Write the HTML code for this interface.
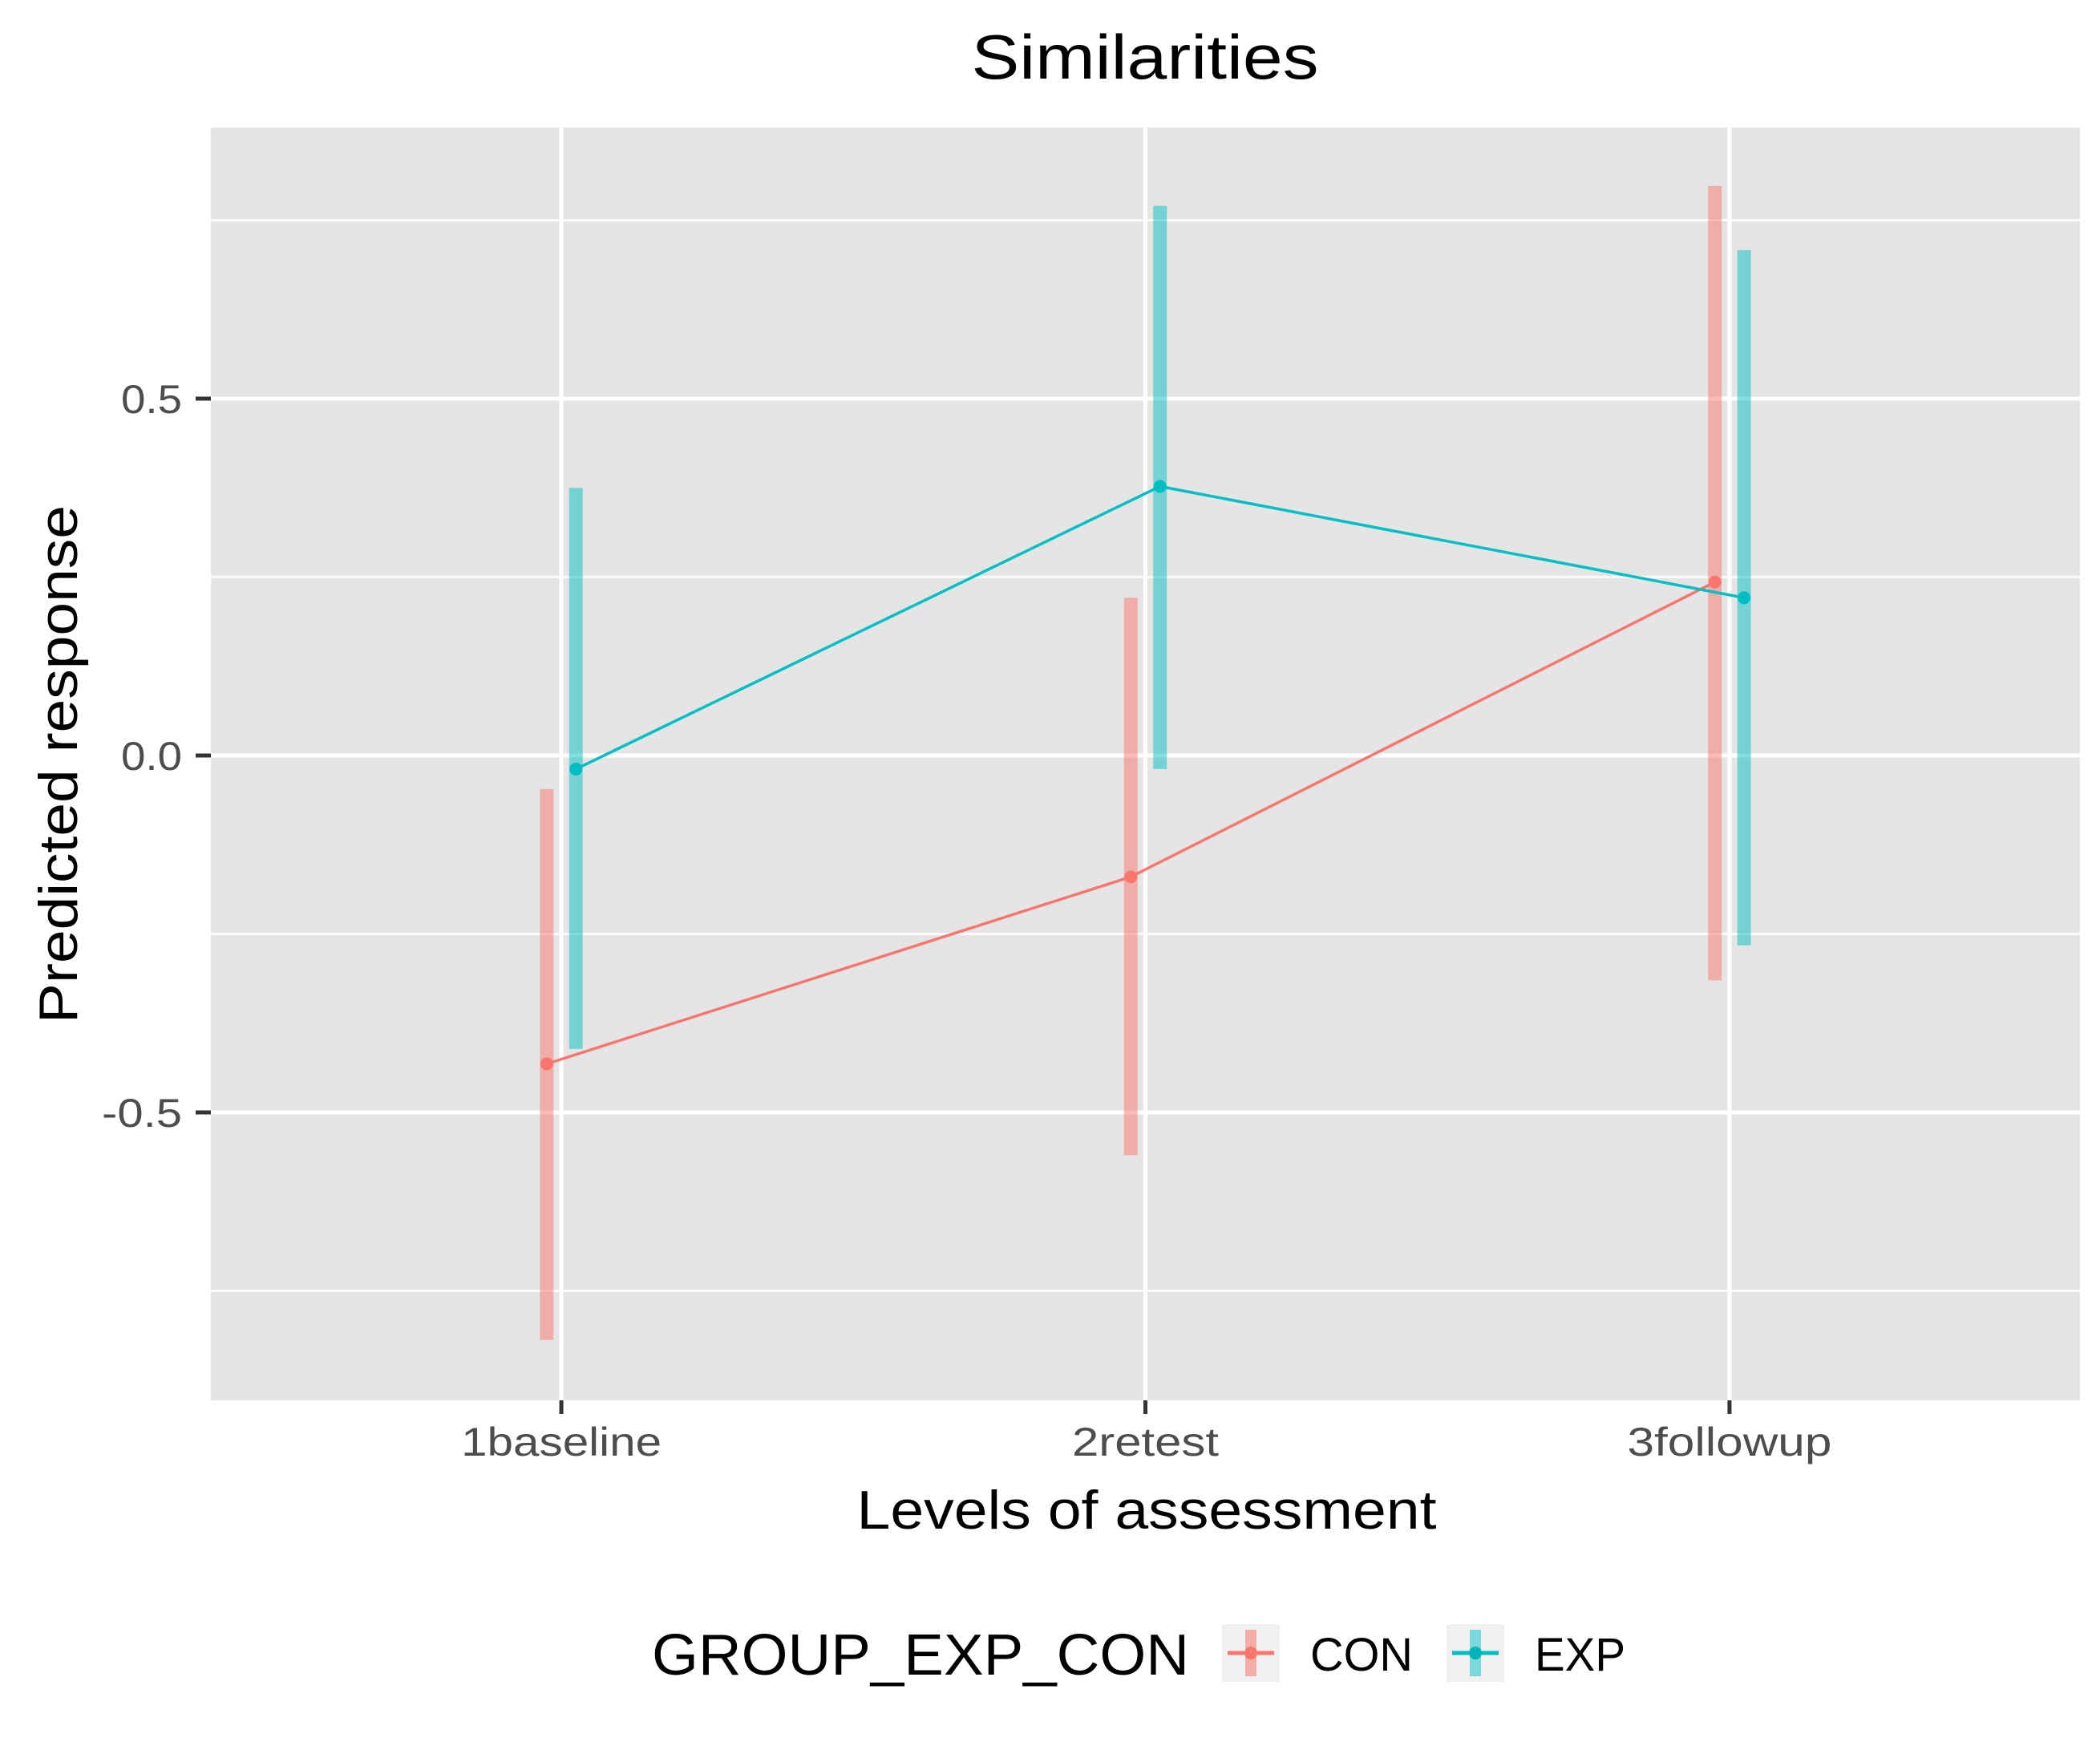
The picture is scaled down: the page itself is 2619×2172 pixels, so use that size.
<!DOCTYPE html>
<html><head><meta charset="utf-8"><style>
html,body{margin:0;padding:0;background:#fff;}
svg{display:block;font-family:"Liberation Sans",Arial,sans-serif;}
</style></head><body>
<svg id="chart" width="2619" height="2172" viewBox="0 0 2619 2172" xmlns="http://www.w3.org/2000/svg">
<rect x="0" y="0" width="2619" height="2172" fill="#fff"/>
<text x="1428" y="98" font-size="78" text-anchor="middle" textLength="433" lengthAdjust="spacingAndGlyphs" fill="#000">Similarities</text>
<rect x="263" y="159" width="2331" height="1587" fill="#e5e5e5"/>
<g id="grid"></g>
<g id="marks"></g>
<g id="axes"></g>
<text transform="translate(96,953) rotate(-90)" font-size="68" text-anchor="middle" textLength="646" lengthAdjust="spacingAndGlyphs" fill="#000">Predicted response</text>
<text x="1430" y="1906" font-size="68" text-anchor="middle" textLength="723" lengthAdjust="spacingAndGlyphs" fill="#000">Levels of assessment</text>
<g>
<text x="813" y="2088" font-size="72" textLength="670" lengthAdjust="spacingAndGlyphs" fill="#000">GROUP_EXP_CON</text>
<g>
<rect x="1524" y="2025" width="72" height="72" fill="#f0f0f0"/>
<rect x="1553" y="2032" width="14" height="58" fill="#f8766d" fill-opacity="0.55"/>
<line x1="1531" y1="2061" x2="1589" y2="2061" stroke="#f8766d" stroke-width="5"/>
<circle cx="1560" cy="2061" r="8" fill="#f8766d"/>
<text x="1634" y="2083" font-size="58" textLength="128" lengthAdjust="spacingAndGlyphs" fill="#000">CON</text>
</g>
<g>
<rect x="1804" y="2025" width="72" height="72" fill="#f0f0f0"/>
<rect x="1833" y="2032" width="14" height="58" fill="#00bfc4" fill-opacity="0.5"/>
<line x1="1811" y1="2061" x2="1869" y2="2061" stroke="#00bfc4" stroke-width="5"/>
<circle cx="1840" cy="2061" r="8" fill="#00b5b8"/>
<text x="1914" y="2083" font-size="58" textLength="113" lengthAdjust="spacingAndGlyphs" fill="#000">EXP</text>
</g>
</g>
</svg>
<script>
const categories = ["1baseline", "2retest", "3followup"];
const conEstimate = [-0.432, -0.170, 0.243];
const conLower = [-0.819, -0.560, -0.315];
const conUpper = [-0.047, 0.221, 0.798];
const expEstimate = [-0.019, 0.377, 0.221];
const expLower = [-0.411, -0.019, -0.266];
const expUpper = [0.375, 0.770, 0.708];
const yTicks = [-0.5, 0, 0.5];
const yTickLabels = ["-0.5", "0.0", "0.5"];
const yMinor = [-0.75, -0.25, 0.25, 0.75];

const NS = "http://www.w3.org/2000/svg";
const PL = 263, PR = 2594, PT = 159, PB = 1746;
const unit = (PR - PL) / (categories.length - 1 + 1.2);
function xScale(i) { return PL + (0.6 + i) * unit; }
const yZero = 942, yPer = 890;
function yScale(v) { return yZero - v * yPer; }
function mk(tag, attrs, parent) {
  const e = document.createElementNS(NS, tag);
  for (const k in attrs) e.setAttribute(k, attrs[k]);
  parent.appendChild(e);
  return e;
}
const grid = document.getElementById("grid");
const marks = document.getElementById("marks");
const axes = document.getElementById("axes");

yMinor.forEach(v => {
  const l = mk("line", {x1: PL, x2: PR, y1: yScale(v), y2: yScale(v), stroke: "#fff", "stroke-width": 2.5}, grid);
  
  
});
yTicks.forEach((v, i) => {
  const l = mk("line", {x1: PL, x2: PR, y1: yScale(v), y2: yScale(v), stroke: "#fff", "stroke-width": 5}, grid);
  
  
  const t = mk("line", {x1: 244, x2: PL, y1: yScale(v), y2: yScale(v), stroke: "#333", "stroke-width": 5}, axes);
  
  
  const lab = mk("text", {x: 227, y: yScale(v) + 18, "font-size": 50, "text-anchor": "end", fill: "#4d4d4d", textLength: yTickLabels[i].length > 3 ? 100 : 76, lengthAdjust: "spacingAndGlyphs"}, axes);
  lab.textContent = yTickLabels[i];
  
  
});
const xLabW = [250, 183, 255];
categories.forEach((c, i) => {
  const x = xScale(i);
  const l = mk("line", {x1: x, x2: x, y1: PT, y2: PB, stroke: "#fff", "stroke-width": 5}, grid);
  
  
  const t = mk("line", {x1: x, x2: x, y1: PB, y2: PB + 17, stroke: "#333", "stroke-width": 5}, axes);
  
  
  const lab = mk("text", {x: x, y: 1815, "font-size": 50, "text-anchor": "middle", fill: "#4d4d4d", textLength: xLabW[i], lengthAdjust: "spacingAndGlyphs"}, axes);
  lab.textContent = c;
  
  
});

function drawSeries(name, est, lo, hi, color, dodge) {
  const g = mk("g", {}, marks);
  
  
  est.forEach((v, i) => {
    const x = xScale(i) + dodge * unit;
    const r = mk("rect", {x: x - 8.5, y: yScale(hi[i]), width: 17, height: yScale(lo[i]) - yScale(hi[i]), fill: color, "fill-opacity": 0.5}, g);
    
    
  });
  const pts = est.map((v, i) => (xScale(i) + dodge * unit) + "," + yScale(v)).join(" ");
  const pl = mk("polyline", {points: pts, fill: "none", stroke: color, "stroke-width": 3.5}, g);
  
  
  est.forEach((v, i) => {
    const c = mk("circle", {cx: xScale(i) + dodge * unit, cy: yScale(v), r: 8, fill: color}, g);
    
    
  });
}
drawSeries("con", conEstimate, conLower, conUpper, "#f8766d", -0.025);
drawSeries("exp", expEstimate, expLower, expUpper, "#00bfc4", 0.025);
</script>
</body></html>
